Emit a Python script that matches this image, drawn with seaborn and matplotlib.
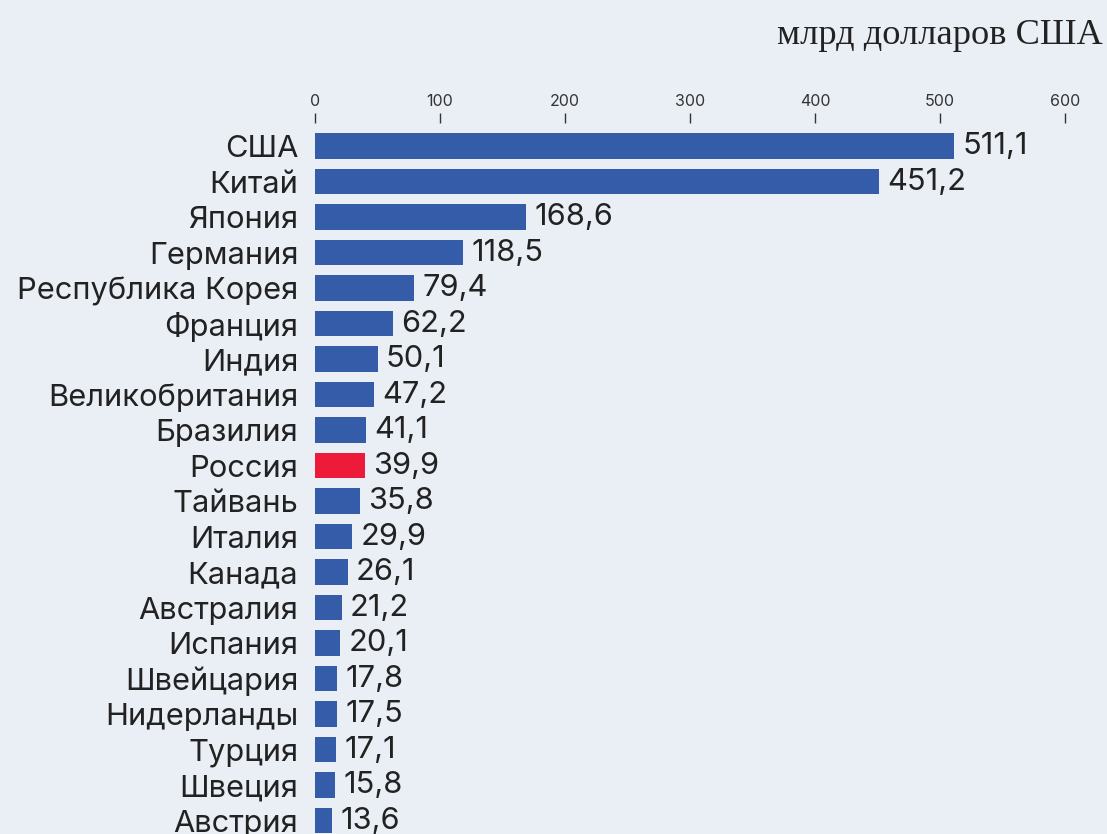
import matplotlib
matplotlib.use("Agg")
import matplotlib.pyplot as plt
import seaborn as sns
import pandas as pd

countries = ["США", "Китай", "Япония", "Германия", "Республика Корея", "Франция",
             "Индия", "Великобритания", "Бразилия", "Россия", "Тайвань", "Италия",
             "Канада", "Австралия", "Испания", "Швейцария", "Нидерланды", "Турция",
             "Швеция", "Австрия"]
values = [511.1, 451.2, 168.6, 118.5, 79.4, 62.2, 50.1, 47.2, 41.1, 39.9,
          35.8, 29.9, 26.1, 21.2, 20.1, 17.8, 17.5, 17.1, 15.8, 13.6]
highlight = "Россия"
unit_label = "млрд долларов США"

blue = "#355ca8"
red = "#ee1a3a"
bg = "#eaeff6"

sns.set_theme(style="white")
plt.rcParams["font.family"] = ["Inter", "DejaVu Sans"]

df = pd.DataFrame({"country": countries, "value": values})
palette = {c: (red if c == highlight else blue) for c in countries}

fig = plt.figure(figsize=(11.07, 8.34), dpi=100, facecolor=bg)
ax = fig.add_axes([315 / 1107, 0, 750 / 1107, (834 - 123) / 834])
ax.set_facecolor(bg)

sns.barplot(data=df, x="value", y="country", hue="country", palette=palette,
            legend=False, width=0.73, saturation=1, linewidth=0, ax=ax)

ax.set_xlim(0, 600)
ax.set_ylim(19.38, -0.648)
ax.set_xticks(range(0, 601, 100))
ax.xaxis.tick_top()
ax.tick_params(axis="x", direction="out", length=7, width=1, color="#333333",
               labelsize=11.5, labelcolor="#333333", pad=3)
ax.tick_params(axis="y", length=0, labelsize=22.2, labelcolor="#222222", pad=12)
for s in ax.spines.values():
    s.set_visible(False)
ax.set_xlabel("")
ax.set_ylabel("")

for container in ax.containers:
    ax.bar_label(container, labels=[f"{v:.1f}".replace(".", ",") for v in container.datavalues],
                 padding=6, fontsize=22.2, color="#222222")

fig.text(1103 / 1107, 1 - 36 / 834, unit_label, ha="right", va="center",
         fontsize=26.2, family=["Liberation Serif", "DejaVu Serif"], color="#222222")

fig.savefig("out.png", dpi=100, facecolor=bg)
